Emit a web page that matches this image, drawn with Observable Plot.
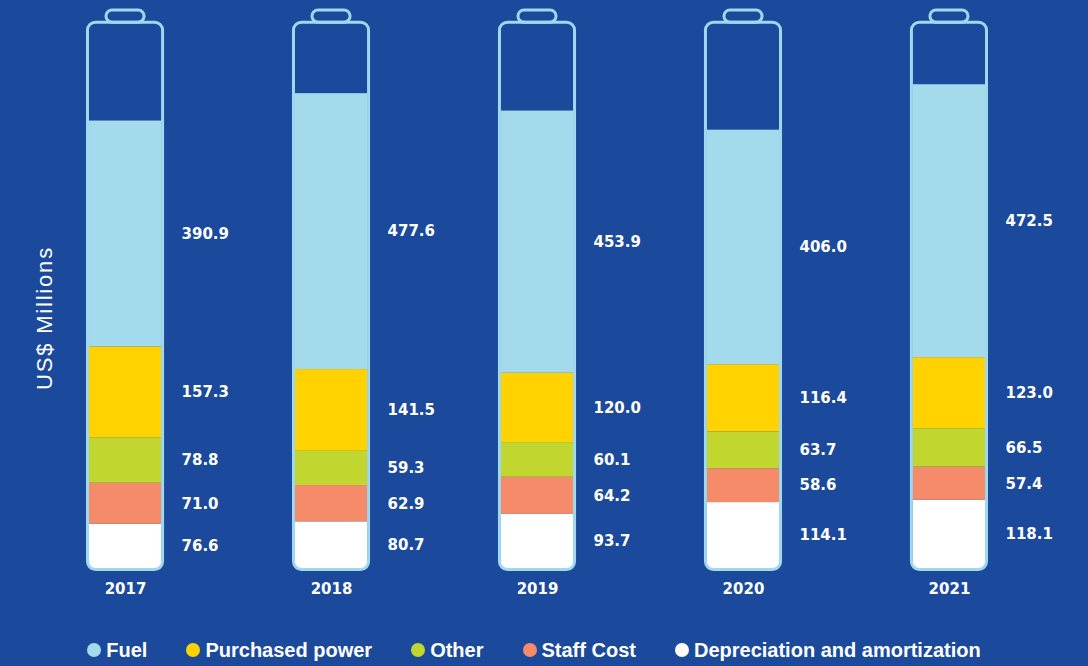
<!DOCTYPE html>
<html>
<head>
<meta charset="utf-8">
<script src="https://cdn.jsdelivr.net/npm/d3@7"></script>
<script src="https://cdn.jsdelivr.net/npm/@observablehq/plot@0.6"></script>
<style>
  html, body { margin: 0; padding: 0; background: #1b4a9c; overflow: hidden; }
  #wrap { position: relative; width: 1088px; height: 666px; }
  #chart svg { display: block; }
  #legend { height: 40px; display: flex; align-items: center; justify-content: center; gap: 39px;
    padding-right: 20px; font-family: "Liberation Sans", Arial, sans-serif; font-weight: bold; font-size: 20px; color: #fff; }
  .item { display: flex; align-items: center; gap: 5px; }
  .dot { width: 14px; height: 14px; border-radius: 50%; display: inline-block; }
  #ylabel { position: absolute; left: 45px; top: 318px; transform: translate(-50%, -50%) rotate(-90deg);
    white-space: nowrap; font-family: "Liberation Sans", Arial, sans-serif; font-size: 22px; color: #fff;
    letter-spacing: 1.8px; line-height: 1; }
</style>
</head>
<body>
<div id="wrap">
<div id="chart"></div>
<div id="legend"></div>
<div id="ylabel"></div>
</div>
<script>
const years = ["2017", "2018", "2019", "2020", "2021"];
// stacked bottom to top
const categories = ["Depreciation and amortization", "Staff Cost", "Other", "Purchased power", "Fuel"];
const depreciation = [76.6, 80.7, 93.7, 114.1, 118.1];
const staffCost = [71.0, 62.9, 64.2, 58.6, 57.4];
const other = [78.8, 59.3, 60.1, 63.7, 66.5];
const purchasedPower = [157.3, 141.5, 120.0, 116.4, 123.0];
const fuel = [390.9, 477.6, 453.9, 406.0, 472.5];
const legendOrder = ["Fuel", "Purchased power", "Other", "Staff Cost", "Depreciation and amortization"];
const yLabel = "US$ Millions";
const colors = {
  "Fuel": "#a3dbec",
  "Purchased power": "#ffd200",
  "Other": "#c1d62f",
  "Staff Cost": "#f68b69",
  "Depreciation and amortization": "#ffffff"
};
const batteryMax = 945;
const capMax = 966;

const series = [depreciation, staffCost, other, purchasedPower, fuel];
const data = [];
years.forEach((y, i) => categories.forEach((c, j) => data.push({year: y, category: c, value: series[j][i]})));

const outline = "#9fd8ef";

const chart = Plot.plot({
  width: 1088,
  height: 630,
  marginLeft: 0,
  marginRight: 0,
  marginTop: 10,
  marginBottom: 62,
  style: {background: "transparent", fontFamily: "'DejaVu Sans', sans-serif"},
  x: {type: "band", domain: years, range: [24.2, 1049.8], paddingInner: 0.621, paddingOuter: 0.3, round: false, axis: null},
  y: {domain: [0, capMax], axis: null},
  color: {domain: categories, range: categories.map(c => colors[c])},
  marks: [
    Plot.rectY(data, Plot.stackY({
      x: "year", y: "value", z: "category", order: categories,
      fill: "category", insetLeft: 3, insetRight: 3
    })),
    Plot.rect(years, {x: d => d, y1: batteryMax, y2: capMax, insetLeft: 20, insetRight: 20,
      fill: "none", stroke: outline, strokeWidth: 3, rx: 6}),
    Plot.rect(years, {x: d => d, y1: 0, y2: batteryMax, insetLeft: 1.5, insetRight: 1.5, insetBottom: -1.5,
      fill: "none", stroke: outline, strokeWidth: 3, rx: 8}),
    Plot.text(data, Plot.stackY({
      x: "year", y: "value", z: "category", order: categories,
      text: d => d.value.toFixed(1), textAnchor: "start", dx: 56,
      fill: "#fff", fontWeight: "bold", fontSize: 15
    })),
    Plot.text(years, {x: d => d, y: 0, dy: 21, text: d => d, fill: "#fff", fontWeight: "bold", fontSize: 15})
  ]
});
document.getElementById("chart").appendChild(chart);
document.getElementById("ylabel").textContent = yLabel;

const legend = document.getElementById("legend");
legendOrder.forEach(c => {
  const item = document.createElement("span");
  item.className = "item";
  const dot = document.createElement("span");
  dot.className = "dot";
  dot.style.background = colors[c];
  const label = document.createElement("span");
  label.textContent = c;
  item.appendChild(dot);
  item.appendChild(label);
  legend.appendChild(item);
});
</script>
</body>
</html>
